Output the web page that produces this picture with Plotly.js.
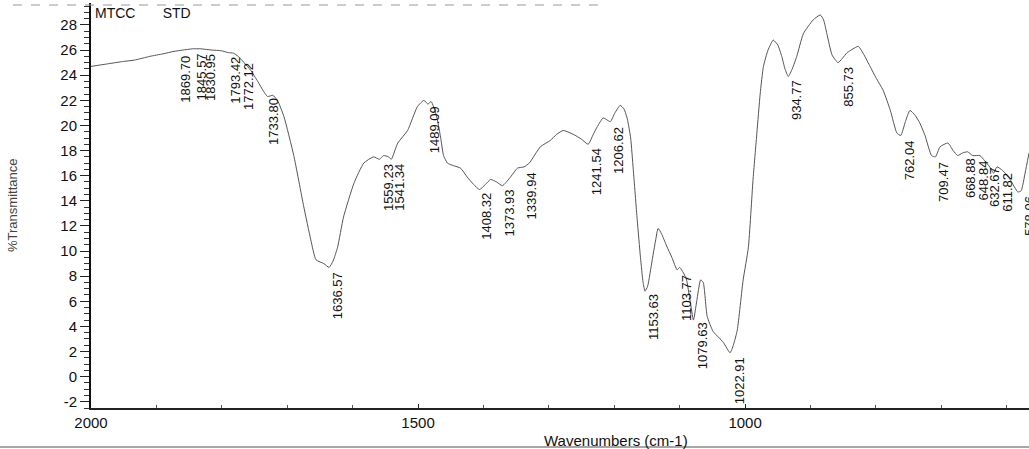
<!DOCTYPE html>
<html>
<head>
<meta charset="utf-8">
<script src="https://cdn.plot.ly/plotly-3.0.1.min.js"></script>
<style>
  html, body { margin: 0; padding: 0; background: #ffffff; }
  #chart { width: 1029px; height: 449px; }
</style>
</head>
<body>
<div id="chart"></div>
<script>
// Wavenumbers (cm-1), descending
const wavenumbers = [
  2000, 1975, 1950, 1934, 1910, 1890, 1873, 1860, 1845, 1832, 1815, 1801, 1790, 1782, 1775, 1766, 1756, 1745, 1736, 1730,
  1722, 1715, 1705, 1690, 1675, 1664, 1656, 1644, 1636, 1630, 1623, 1614, 1598, 1583, 1568, 1559, 1553, 1545, 1541, 1531,
  1516, 1501, 1491, 1485, 1480, 1472, 1466, 1461, 1455, 1446, 1435, 1425, 1415, 1406, 1397, 1389, 1380, 1371, 1360, 1348,
  1338, 1330, 1313, 1298, 1288, 1278, 1263, 1250, 1240, 1232, 1226, 1217, 1210, 1206, 1199, 1191, 1185, 1180, 1175, 1171,
  1165, 1160, 1156, 1153, 1149, 1142, 1137, 1133, 1128, 1120, 1112, 1104, 1100, 1097, 1090, 1084, 1079, 1074, 1068, 1064,
  1058, 1049, 1040, 1033, 1023, 1018, 1012, 1003, 995, 988, 982, 977, 972, 965, 957, 950, 944, 939, 934, 928,
  921, 911, 896, 885, 880, 875, 867, 858, 852, 844, 835, 827, 818, 809, 800, 789, 778, 768, 762, 755,
  748, 740, 733, 725, 715, 709, 702, 690, 682, 675, 668, 660, 652, 641, 634, 626, 620, 615, 606, 595,
  583, 578, 572, 566
];
// % Transmittance
const transmittance = [
  24.7, 24.9, 25.1, 25.2, 25.5, 25.7, 25.9, 26.0, 26.1, 26.1, 26.0, 25.95, 25.8, 25.75, 25.5, 25.0, 24.4, 23.5, 22.7, 22.3,
  22.4, 22.0, 20.7, 17.6, 13.6, 10.9, 9.3, 9.0, 8.7, 9.2, 10.3, 12.7, 15.4, 17.0, 17.5, 17.3, 17.6, 17.5, 17.3, 18.6,
  19.6, 21.5, 22.0, 21.7, 21.9, 20.8, 19.2, 17.6, 17.0, 16.8, 16.6, 15.9, 15.3, 14.9, 15.3, 15.7, 15.5, 15.2, 15.8, 16.6,
  16.7, 17.0, 18.3, 18.8, 19.3, 19.6, 19.3, 18.9, 18.5, 19.3, 19.9, 20.6, 20.4, 20.3, 21.0, 21.6, 21.3, 20.5, 19.0, 16.5,
  12.5, 9.5, 7.5, 6.8, 7.2, 9.3, 10.8, 11.8, 11.4, 10.4, 9.5, 8.5, 8.7, 8.5, 7.8, 6.0, 4.5, 6.0, 7.7, 7.5,
  4.8, 3.6, 3.1, 2.7, 1.9, 2.5, 3.7, 7.7, 10.3, 15.6, 19.4, 22.5, 24.7, 26.0, 26.8, 26.4, 25.5, 24.5, 23.9, 24.5,
  25.5, 27.3, 28.4, 28.8, 28.4, 27.3, 25.6, 25.0, 25.3, 25.8, 26.1, 26.3, 25.6, 24.7, 23.8, 22.8, 21.2, 19.4, 19.2, 20.3,
  21.2, 20.8, 20.2, 19.2, 17.6, 17.5, 18.3, 18.6, 18.0, 17.6, 17.8, 17.9, 17.6, 17.6, 17.2, 16.7, 16.2, 16.7, 16.4, 15.7,
  14.7, 14.8, 16.2, 17.8
];
// Peak labels as printed
const peakLabels = [
  "1869.70", "1845.57", "1830.95", "1793.42", "1772.12", "1733.80", "1636.57", "1559.23", "1541.34", "1489.09",
  "1408.32", "1373.93", "1339.94", "1241.54", "1206.62", "1153.63", "1103.77", "1079.63", "1022.91", "934.77",
  "855.73", "762.04", "709.47", "668.88", "648.84", "632.67", "611.82", "578.06"
];
const yTickVals = [-2, 0, 2, 4, 6, 8, 10, 12, 14, 16, 18, 20, 22, 24, 26, 28];
const yTickText = ["-2", "0", "2", "4", "6", "8", "10", "12", "14", "16", "18", "20", "22", "24", "26", "28"];
const xTickVals = [2000, 1500, 1000];
const xTickText = ["2000", "1500", "1000"];
const headerText = "MTCC&nbsp;&nbsp;&nbsp;&nbsp;&nbsp;&nbsp;&nbsp;STD";
const xTitle = "Wavenumbers (cm-1)";
const yTitle = "%Transmittance";

function interp(w) {
  for (let i = 0; i < wavenumbers.length - 1; i++) {
    const a = wavenumbers[i], b = wavenumbers[i + 1];
    if (w <= a && w >= b) {
      const t = (a - w) / (a - b);
      return transmittance[i] + t * (transmittance[i + 1] - transmittance[i]);
    }
  }
  return transmittance[transmittance.length - 1];
}

const FONT = "Liberation Sans, Arial, Helvetica, sans-serif";

const annotations = peakLabels.map(lbl => {
  const w = parseFloat(lbl);
  return {
    x: w, y: interp(w), xref: "x", yref: "y",
    text: lbl, showarrow: false, textangle: -90,
    xanchor: "center", yanchor: "top", xshift: 9, yshift: -3,
    font: { family: FONT, size: 13, color: "#111" }
  };
});

annotations.push({
  xref: "paper", yref: "paper", x: 0.002, y: 0.975, xanchor: "left", yanchor: "middle",
  text: headerText, showarrow: false, font: { family: FONT, size: 14, color: "#111" }
});
annotations.push({
  xref: "paper", yref: "paper", x: (616 - 91) / 938, y: (408 - 440) / 405, xanchor: "center", yanchor: "middle",
  text: xTitle, showarrow: false, font: { family: FONT, size: 15, color: "#111" }
});
annotations.push({
  xref: "paper", yref: "paper", x: (12 - 91) / 938, y: (408 - 206) / 405, xanchor: "center", yanchor: "middle",
  text: yTitle, showarrow: false, textangle: -90, font: { family: FONT, size: 13, color: "#444" }
});

const trace = {
  x: wavenumbers, y: transmittance, type: "scatter", mode: "lines",
  line: { color: "#555", width: 1, shape: "spline", smoothing: 0.5 },
  hoverinfo: "skip"
};

const layout = {
  width: 1029, height: 449,
  margin: { l: 91, r: 0, t: 3, b: 41 },
  paper_bgcolor: "#ffffff", plot_bgcolor: "#ffffff",
  showlegend: false,
  xaxis: {
    range: [2000, 566], showgrid: false, zeroline: false,
    showline: true, linecolor: "#222", linewidth: 1.5,
    tickmode: "array", tickvals: xTickVals, ticktext: xTickText,
    ticks: "inside", ticklen: 4, tickcolor: "#222", tickwidth: 1,
    minor: { dtick: 100, ticks: "inside", ticklen: 3, tickcolor: "#555", showgrid: false },
    tickfont: { family: FONT, size: 15, color: "#111" }
  },
  yaxis: {
    range: [-2.5, 29.75], showgrid: false, zeroline: false,
    showline: true, linecolor: "#111", linewidth: 2,
    tickmode: "array", tickvals: yTickVals, ticktext: yTickText,
    ticks: "outside", ticklen: 9, tickcolor: "#222", tickwidth: 1,
    minor: { dtick: 0.5, ticks: "outside", ticklen: 5, tickcolor: "#333", showgrid: false },
    tickfont: { family: FONT, size: 15, color: "#111" }
  },
  annotations: annotations,
  shapes: [
    { type: "line", xref: "paper", yref: "paper", x0: (13 - 91) / 938, x1: (600 - 91) / 938,
      y0: (408 - 5) / 405, y1: (408 - 5) / 405, line: { color: "#999", width: 1, dash: "dash" } },
    { type: "line", xref: "paper", yref: "paper", x0: -91 / 938, x1: 1,
      y0: (408 - 447) / 405, y1: (408 - 447) / 405, line: { color: "#888", width: 1.5 } }
  ]
};

Plotly.newPlot("chart", [trace], layout, { staticPlot: true, displayModeBar: false });
</script>
</body>
</html>
